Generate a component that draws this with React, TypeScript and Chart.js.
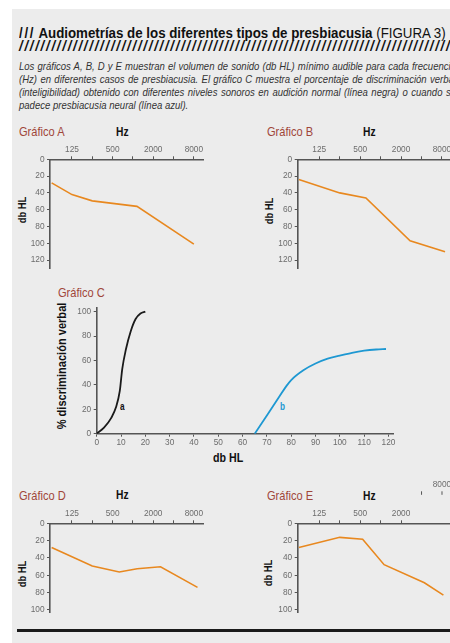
import React, { useEffect, useRef } from 'react';
import { Chart, registerables } from 'chart.js';
Chart.register(...registerables);

const FONT = "'Liberation Sans', Arial, sans-serif";
const ORANGE = '#e8881f';
const AXIS = '#555555';
const TICK_TXT = '#6c6c6c';
const TITLE_RED = '#a0463a';
const BG = '#ececec';
const NARROW = 0.82;

// frequency axis: position index (0 = 62.5 Hz, 1 = 125 Hz ... 7 = 8000 Hz)
const freqTickPos = [1, 2, 3, 4, 5, 6, 7];
const freqTickLabels = ['125', '', '500', '', '2000', '', '8000'];
const dbTicksAB = [0, 20, 40, 60, 80, 100, 120];
const dbTicksDE = [0, 20, 40, 60, 80, 100];

// Gráfico A
const graphA_x = [0, 1, 2, 4.2, 7];
const graphA_db = [28, 42, 49.5, 56, 101];
// Gráfico B
const graphB_x = [0, 2, 3.28, 5.44, 7.15];
const graphB_db = [24, 40, 46, 97, 110];
// Gráfico D
const graphD_x = [0, 2, 3.33, 4.21, 5.36, 7.18];
const graphD_db = [28, 49.4, 56.2, 52.4, 50.1, 74];
// Gráfico E
const graphE_x = [0, 2, 3.12, 4.17, 6.14, 7.07];
const graphE_db = [28, 16.2, 18.5, 47.8, 68.6, 83];
const graphE_axisTicks = [1, 2, 3, 4, 5];
const graphE_strayTicks = [6, 7];
const graphE_strayLabel = '8000';

// Gráfico C
const normal_db = [0, 3, 6, 8, 9.5, 10.5, 12, 14, 16, 18, 20];
const normal_pct = [0, 5, 13, 22, 35, 53, 69, 84, 94, 98.5, 100];
const neural_db = [65, 70, 75, 78, 80, 85, 90, 95, 100, 105, 110, 115, 119];
const neural_pct = [0, 15, 30, 39, 44, 52, 57.5, 61.5, 64, 66.3, 68, 69, 69.4];
const dbHLTicks = [0, 10, 20, 30, 40, 50, 60, 70, 80, 90, 100, 110, 120];
const pctTicks = [0, 20, 40, 60, 80, 100];

const paragraphLines = [
  'Los gráficos A, B, D y E muestran el volumen de sonido (db HL) mínimo audible para cada frecuencia',
  '(Hz) en diferentes casos de presbiacusia. El gráfico C muestra el porcentaje de discriminación verbal',
  '(inteligibilidad) obtenido con diferentes niveles sonoros en audición normal (línea negra) o cuando se',
  'padece presbiacusia neural (línea azul).',
];

const tickFont = { family: FONT, size: 8.3 };

function freqLabel(v: number) {
  const i = freqTickPos.indexOf(v);
  return i >= 0 ? freqTickLabels[i] : '';
}

type AudioP = {
  xs: number[]; ys: number[]; xMin: number; xMax: number; yMax: number;
  yTicks: number[]; xTicks: number[]; yAxisW: number; xAxisH: number;
  pad: any; plugins?: any[];
};

function audiogram(p: AudioP): any {
  return {
    type: 'line',
    data: {
      datasets: [{
        data: p.xs.map((x, i) => ({ x, y: p.ys[i] })),
        borderColor: ORANGE, borderWidth: 1.6, pointRadius: 0, tension: 0, fill: false,
      }],
    },
    plugins: p.plugins || [],
    options: {
      animation: false, responsive: false, devicePixelRatio: 1,
      layout: { padding: p.pad },
      plugins: { legend: { display: false }, tooltip: { enabled: false } },
      scales: {
        x: {
          type: 'linear', position: 'top', min: p.xMin, max: p.xMax,
          afterBuildTicks: (s: any) => { s.ticks = p.xTicks.map((v) => ({ value: v })); },
          afterFit: (s: any) => { s.height = p.xAxisH; },
          ticks: { callback: (v: number) => freqLabel(v), font: tickFont, color: TICK_TXT, padding: 2, maxRotation: 0, autoSkip: false },
          grid: { drawOnChartArea: false, drawTicks: true, tickLength: 3, color: AXIS, lineWidth: 1 },
          border: { display: true, color: AXIS, width: 1.6 },
        },
        y: {
          type: 'linear', reverse: true, min: 0, max: p.yMax,
          afterBuildTicks: (s: any) => { s.ticks = p.yTicks.map((v) => ({ value: v })); },
          afterFit: (s: any) => { s.width = p.yAxisW; },
          ticks: { font: tickFont, color: TICK_TXT, padding: 2.5, autoSkip: false },
          grid: { drawOnChartArea: false, drawTicks: true, tickLength: 3, color: AXIS, lineWidth: 1 },
          border: { display: true, color: AXIS, width: 1.6 },
        },
      },
    },
  };
}

const strayTicksPlugin = {
  id: 'strayTicks',
  afterDraw(chart: any) {
    const xs = chart.scales.x;
    const ctx = chart.ctx;
    const y0 = chart.chartArea.top;
    ctx.save();
    ctx.strokeStyle = AXIS;
    ctx.lineWidth = 1;
    graphE_strayTicks.forEach((v) => {
      const x = xs.getPixelForValue(v);
      ctx.beginPath();
      ctx.moveTo(x, y0 - 32);
      ctx.lineTo(x, y0 - 28.5);
      ctx.stroke();
    });
    ctx.fillStyle = TICK_TXT;
    ctx.font = `${tickFont.size}px ${FONT}`;
    ctx.textAlign = 'center';
    ctx.textBaseline = 'middle';
    ctx.fillText(graphE_strayLabel, xs.getPixelForValue(graphE_strayTicks[graphE_strayTicks.length - 1]), y0 - 38.3);
    ctx.restore();
  },
};

function chartC(): any {
  return {
    type: 'line',
    data: {
      datasets: [
        {
          data: normal_db.map((x, i) => ({ x, y: normal_pct[i] })),
          borderColor: '#1a1a1a', borderWidth: 1.8, pointRadius: 0, cubicInterpolationMode: 'monotone', fill: false,
        },
        {
          data: neural_db.map((x, i) => ({ x, y: neural_pct[i] })),
          borderColor: '#1e98d2', borderWidth: 1.8, pointRadius: 0, cubicInterpolationMode: 'monotone', fill: false,
        },
      ],
    },
    options: {
      animation: false, responsive: false, devicePixelRatio: 1,
      layout: { padding: { left: 0, top: 8, right: 16.7, bottom: 0 } },
      plugins: { legend: { display: false }, tooltip: { enabled: false } },
      scales: {
        x: {
          type: 'linear', position: 'bottom', min: 0, max: 122,
          afterBuildTicks: (s: any) => { s.ticks = dbHLTicks.map((v) => ({ value: v })); },
          afterFit: (s: any) => { s.height = 16.3; },
          ticks: { font: tickFont, color: TICK_TXT, padding: 1.5, maxRotation: 0, autoSkip: false },
          grid: { drawOnChartArea: false, drawTicks: true, tickLength: 3, color: AXIS, lineWidth: 1 },
          border: { display: true, color: AXIS, width: 1.6 },
        },
        y: {
          type: 'linear', min: 0, max: 103,
          afterBuildTicks: (s: any) => { s.ticks = pctTicks.map((v) => ({ value: v })); },
          afterFit: (s: any) => { s.width = 56.7; },
          ticks: { font: tickFont, color: TICK_TXT, padding: 2.5, autoSkip: false },
          grid: { drawOnChartArea: false, drawTicks: true, tickLength: 3, color: AXIS, lineWidth: 1 },
          border: { display: true, color: AXIS, width: 1.6 },
        },
      },
    },
  };
}

function ChartCanvas(props: { left: number; top: number; width: number; height: number; build: () => any }) {
  const ref = useRef<HTMLCanvasElement>(null);
  useEffect(() => {
    const chart = new Chart(ref.current as HTMLCanvasElement, props.build());
    return () => chart.destroy();
  }, []);
  return (
    <canvas
      ref={ref}
      width={props.width}
      height={props.height}
      style={{ position: 'absolute', left: props.left, top: props.top, width: props.width, height: props.height }}
    />
  );
}

function Txt(props: { x: number; cy: number; size: number; sx?: number; color?: string; bold?: boolean; italic?: boolean; children: any; style?: any }) {
  return (
    <div
      style={{
        position: 'absolute', left: props.x, top: props.cy - props.size / 2, fontSize: props.size, lineHeight: `${props.size}px`,
        fontFamily: FONT, whiteSpace: 'nowrap', color: props.color || '#111',
        transform: `scaleX(${props.sx ?? NARROW})`, transformOrigin: 'left center',
        fontWeight: props.bold ? 700 : 400, fontStyle: props.italic ? 'italic' : 'normal', ...(props.style || {}),
      }}
    >
      {props.children}
    </div>
  );
}

function VTxt(props: { cx: number; cy: number; size: number; children: any }) {
  return (
    <div
      style={{
        position: 'absolute', left: props.cx, top: props.cy,
        transform: `translate(-50%, -50%) rotate(-90deg) scaleX(${NARROW})`,
        fontSize: props.size, lineHeight: `${props.size}px`, fontFamily: FONT,
        fontWeight: 700, whiteSpace: 'nowrap', color: '#111',
      }}
    >
      {props.children}
    </div>
  );
}

export default function App() {
  const PARA_SX = 0.83;
  return (
    <div style={{ position: 'fixed', left: 0, top: 0, width: 450, height: 643, overflow: 'hidden', background: '#fff' }}>
      <div style={{ position: 'absolute', left: 12, top: 9, right: 0, bottom: 0, background: BG }} />

      <Txt x={19} cy={32.5} size={14} sx={0.95} bold>
        <span style={{ letterSpacing: 1.8 }}>///</span> Audiometrías de los diferentes tipos de presbiacusia
        <span style={{ fontWeight: 400 }}> (FIGURA 3)</span>
      </Txt>
      <Txt x={19} cy={46} size={14} sx={0.95} bold italic style={{ letterSpacing: 1.8 }}>
        {'/'.repeat(110)}
      </Txt>
      {paragraphLines.map((l, i) => (
        <Txt key={i} x={19} cy={67 + i * 13} size={11.5} sx={PARA_SX} italic color="#333"
          style={i < paragraphLines.length - 1 ? { width: 437 / PARA_SX, textAlign: 'justify', textAlignLast: 'justify', whiteSpace: 'normal' } : {}}>
          {l}
        </Txt>
      ))}

      <Txt x={19} cy={132} size={13.5} color={TITLE_RED}>Gráfico A</Txt>
      <Txt x={115.5} cy={132} size={12.5} bold>Hz</Txt>
      <VTxt cx={22.8} cy={210} size={11.5}>db HL</VTxt>
      <ChartCanvas left={0} top={136} width={225} height={140}
        build={() => audiogram({ xs: graphA_x, ys: graphA_db, xMin: -0.08, xMax: 7.45, yMax: 130, yTicks: dbTicksAB, xTicks: freqTickPos, yAxisW: 50, xAxisH: 23.3, pad: { left: 0, top: 0, right: 22, bottom: 4.3 } })} />

      <Txt x={267} cy={132} size={13.5} color={TITLE_RED}>Gráfico B</Txt>
      <Txt x={362.5} cy={132} size={12.5} bold>Hz</Txt>
      <VTxt cx={270} cy={210.5} size={11.5}>db HL</VTxt>
      <ChartCanvas left={230} top={136} width={240} height={140}
        build={() => audiogram({ xs: graphB_x, ys: graphB_db, xMin: -0.056, xMax: 8.37, yMax: 130, yTicks: dbTicksAB, xTicks: freqTickPos, yAxisW: 67.7, xAxisH: 23.3, pad: { left: 0, top: 0, right: 0, bottom: 4.3 } })} />

      <Txt x={58} cy={293} size={13.5} color={TITLE_RED}>Gráfico C</Txt>
      <VTxt cx={61.7} cy={366} size={13.5}>% discriminación verbal</VTxt>
      <Txt x={213} cy={457} size={13} bold>db HL</Txt>
      <Txt x={120} cy={406.7} size={10} bold>a</Txt>
      <Txt x={280} cy={406.7} size={10} bold color="#1e98d2">b</Txt>
      <ChartCanvas left={40} top={300} width={370} height={150} build={chartC} />

      <Txt x={19} cy={495.3} size={13.5} color={TITLE_RED}>Gráfico D</Txt>
      <Txt x={115.5} cy={495.5} size={12.5} bold>Hz</Txt>
      <VTxt cx={22.8} cy={573.7} size={11.5}>db HL</VTxt>
      <ChartCanvas left={0} top={500} width={225} height={120}
        build={() => audiogram({ xs: graphD_x, ys: graphD_db, xMin: -0.08, xMax: 7.45, yMax: 103, yTicks: dbTicksDE, xTicks: freqTickPos, yAxisW: 50, xAxisH: 23.3, pad: { left: 0, top: 0, right: 22, bottom: 7.3 } })} />

      <Txt x={267} cy={495.3} size={13.5} color={TITLE_RED}>Gráfico E</Txt>
      <Txt x={362.5} cy={496} size={12.5} bold>Hz</Txt>
      <VTxt cx={268.8} cy={573} size={11.5}>db HL</VTxt>
      <ChartCanvas left={230} top={470} width={240} height={150}
        build={() => audiogram({ xs: graphE_x, ys: graphE_db, xMin: -0.056, xMax: 8.37, yMax: 103, yTicks: dbTicksDE, xTicks: graphE_axisTicks, yAxisW: 67.7, xAxisH: 53.3, pad: { left: 0, top: 0, right: 0, bottom: 7.3 }, plugins: [strayTicksPlugin] })} />

      <div style={{ position: 'absolute', left: 17, top: 628.5, right: 0, height: 3, background: '#1a1a1a' }} />
    </div>
  );
}
